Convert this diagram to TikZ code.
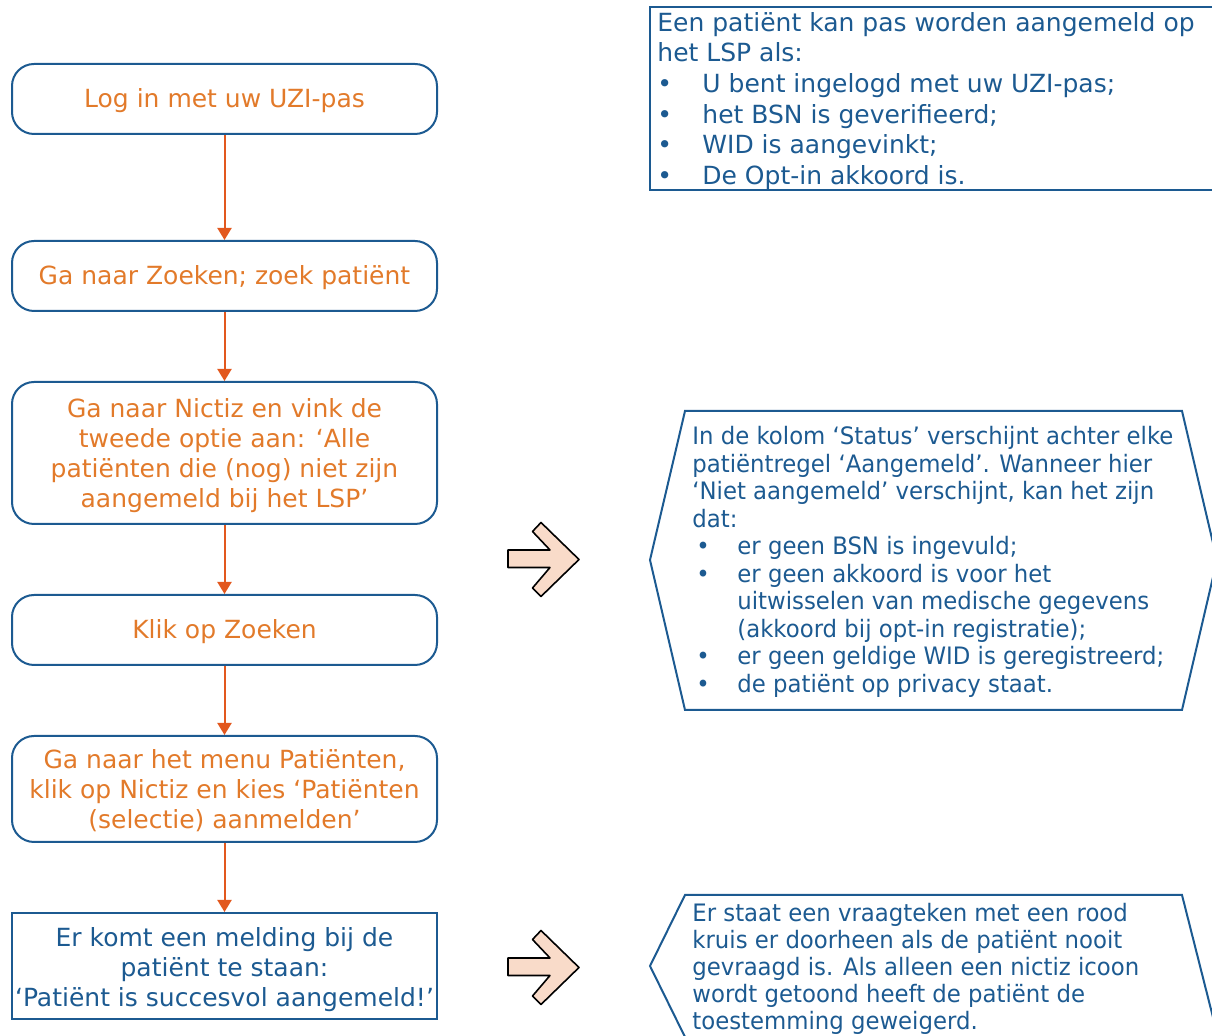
\documentclass[tikz,border=0pt]{standalone}
\usepackage{fontspec}
\setmainfont{DejaVu Sans}
\newfontfamily\smalfont[FakeStretch=0.95]{DejaVu Sans}
\usetikzlibrary{arrows.meta}
\definecolor{nictizblauw}{RGB}{28,90,145}
\definecolor{nictizoranje}{RGB}{226,122,42}
\definecolor{pijloranje}{RGB}{226,88,30}
\definecolor{pijlvul}{RGB}{249,219,201}
\newcommand{\opsom}[1]{\makebox[22.5pt][l]{\textbullet}#1}
\newcommand{\hexopsom}[1]{\makebox[22.5pt][l]{\hspace{2pt}\textbullet}#1}
\newcommand{\opvul}[1]{\rule{0pt}{#1}}
\begin{document}
\begin{tikzpicture}[x=0.5pt,y=-0.5pt,
    stapbox/.style={draw=nictizblauw, line width=1pt, rounded corners=11pt,
        minimum width=212.5pt, minimum height=35pt, inner sep=0pt,
        align=center, text=nictizoranje, font=\fontsize{12.5}{15}\selectfont},
    eindbox/.style={stapbox, sharp corners, text=nictizblauw},
    stroom/.style={draw=pijloranje, line width=1pt, -{Triangle[width=7pt,length=6pt]}},
    rand/.style={draw=nictizblauw, line width=1pt},
    uitleg/.style={anchor=north west, inner sep=0pt, align=left, text=nictizblauw},
    blokpijl/.style={draw=black, fill=pijlvul, line width=0.8pt, line join=round}]
\useasboundingbox (0,0) rectangle (1212,1036);

% stappen links
\node[stapbox] (login) at (224.5,99) {\opvul{11pt}Log in met uw UZI-pas};
\node[stapbox] (zoek) at (224.5,276) {\opvul{11pt}Ga naar Zoeken; zoek patiënt};
\node[stapbox, minimum height=71pt] (vink) at (224.5,453)
    {\opvul{12.5pt}Ga naar Nictiz en vink de\\tweede optie aan: ‘Alle\\patiënten die (nog) niet zijn\\aangemeld bij het LSP’};
\node[stapbox] (klik) at (224.5,630) {\opvul{11pt}Klik op Zoeken};
\node[stapbox, minimum height=53pt] (menu) at (224.5,789)
    {\opvul{11.5pt}Ga naar het menu Patiënten,\\klik op Nictiz en kies ‘Patiënten\\(selectie) aanmelden’};
\node[eindbox, minimum height=53pt] (melding) at (224.5,966)
    {\opvul{13.5pt}Er komt een melding bij de\\patiënt te staan:\\‘Patiënt is succesvol aangemeld!’};

% pijlen
\draw[stroom] (login) -- (zoek);
\draw[stroom] (zoek) -- (vink);
\draw[stroom] (vink) -- (klik);
\draw[stroom] (klik) -- (menu);
\draw[stroom] (menu) -- (melding);

% kader rechtsboven
\draw[rand] (1216,7) -| (650,190.5) -- (1216,190.5);
\node[uitleg, font=\fontsize{12.5}{15.3}\selectfont] (voorwaarden) at (657,12)
    {Een patiënt kan pas worden aangemeld op\\het LSP als:\\
     \opsom{U bent ingelogd met uw UZI-pas;}\\
     \opsom{het BSN is geverifieerd;}\\
     \opsom{WID is aangevinkt;}\\
     \opsom{De Opt-in akkoord is.}};

% zeshoeken
\draw[rand] (685,411) -- (1182,411) -- (1217,560) -- (1182,710) -- (685,710) -- (650,560) -- cycle;
\node[uitleg, font=\smalfont\fontsize{12}{13.75}\selectfont] (status) at (692,426)
    {In de kolom ‘Status’ verschijnt achter elke\\
     patiëntregel ‘Aangemeld’. Wanneer hier\\
     ‘Niet aangemeld’ verschijnt, kan het zijn\\
     dat:\\
     \hexopsom{er geen BSN is ingevuld;}\\
     \hexopsom{er geen akkoord is voor het}\\
     \hspace*{22.5pt}uitwisselen van medische gegevens\\
     \hspace*{22.5pt}(akkoord bij opt-in registratie);\\
     \hexopsom{er geen geldige WID is geregistreerd;}\\
     \hexopsom{de patiënt op privacy staat.}};

\draw[rand] (1218,1037) -- (1182,895) -- (685,895) -- (650,966) -- (685,1037);
\node[uitleg, font=\smalfont\fontsize{12}{13.5}\selectfont] (vraagteken) at (692,903)
    {Er staat een vraagteken met een rood\\
     kruis er doorheen als de patiënt nooit\\
     gevraagd is. Als alleen een nictiz icoon\\
     wordt getoond heeft de patiënt de\\
     toestemming geweigerd.};

% blokpijlen
\foreach \dy in {0,408}{
  \draw[blokpijl, shift={(0,\dy)}] (508,550) -- (550,550) -- (532.5,531.5) -- (541,522.5)
      -- (579,559.5) -- (541,596.5) -- (532.5,588) -- (550,567.5) -- (508,567.5) -- cycle;
}
\end{tikzpicture}
\end{document}
